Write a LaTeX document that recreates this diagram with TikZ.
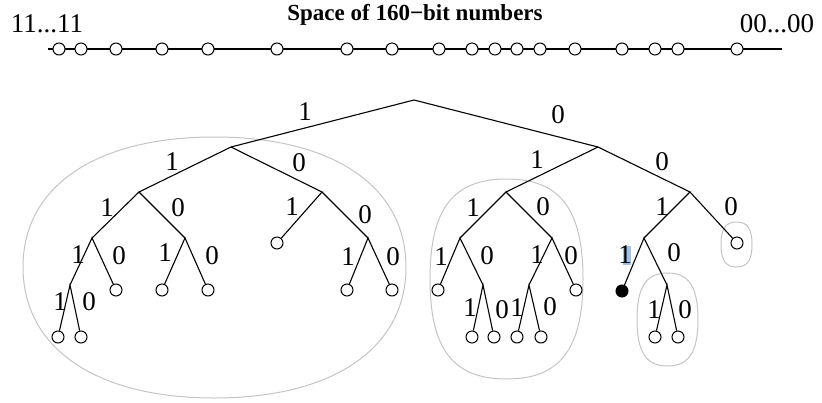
\documentclass[tikz,border=0pt]{standalone}
\usepackage{fontspec}
\setmainfont{Liberation Serif}
\definecolor{hl}{HTML}{9DC3E6}
\definecolor{blobgray}{HTML}{C4C4C4}
\newcommand{\myblob}[6]{%
 \draw[blobline] ({#1+#3},#2) .. controls ({#1+#3},{#2+#6*#5}) and ({#1+#6*#3},{#2+#5}) .. ({#1},{#2+#5})
  .. controls ({#1-#6*#3},{#2+#5}) and ({#1-#3},{#2+#6*#5}) .. ({#1-#3},#2)
  .. controls ({#1-#3},{#2-#6*#4}) and ({#1-#6*#3},{#2-#4}) .. ({#1},{#2-#4})
  .. controls ({#1+#6*#3},{#2-#4}) and ({#1+#3},{#2-#6*#4}) .. ({#1+#3},#2) -- cycle;}
\begin{document}
\begin{tikzpicture}[x=1pt,y=-1pt,
 leaf/.style={circle,draw,fill=white,minimum size=12pt,inner sep=0pt,line width=1pt},
 hit/.style={circle,draw,fill=black,minimum size=12pt,inner sep=0pt,line width=1pt},
 lab/.style={font=\fontsize{27}{31}\selectfont,inner sep=0pt},
 br/.style={line width=1.1pt},
 axis/.style={line width=2pt},
 blobline/.style={draw=blobgray,line width=1pt}]
\useasboundingbox (0,0) rectangle (822,402);

% header
\node[font=\bfseries\fontsize{23}{27}\selectfont,anchor=base,inner sep=0pt] (title) at (415,20) {Space of 160−bit numbers};
\node[font=\fontsize{27}{31}\selectfont,anchor=base,inner sep=0pt] (hi) at (47,32) {11...11};
\node[font=\fontsize{27}{31}\selectfont,anchor=base,inner sep=0pt] (lo) at (777,32) {00...00};

% number line
\coordinate (tl) at (48,49);
\coordinate (tr) at (782,49);
\draw[axis] (tl) -- (tr);
\foreach \x [count=\i] in {59,81,116,162,208,277,347,392,439,472,495,517,540,575,622,655,678,737}
  \node[leaf] (t\i) at (\x,49) {};

% grey groupings
\myblob{214.5}{267}{191.5}{130}{131}{0.62}
\myblob{506.5}{279}{76.5}{100}{100}{0.7}
\myblob{667.5}{319.5}{30.5}{46.5}{46.5}{0.7}
\myblob{736.5}{244.5}{15.5}{22.5}{22.5}{0.7}

% internal nodes
\coordinate (r) at (414,100);
\coordinate (a) at (231,147);
\coordinate (b) at (598,147);
\coordinate (aa) at (139,192);
\coordinate (ab) at (322,192);
\coordinate (ba) at (506,192);
\coordinate (bb) at (690,192);
\coordinate (aaa) at (92,238);
\coordinate (aab) at (185,238);
\coordinate (abb) at (368,238);
\coordinate (baa) at (460,238);
\coordinate (bab) at (552,238);
\coordinate (bba) at (644,238);
\coordinate (aaaa) at (70,285);
\coordinate (baab) at (483,285);
\coordinate (baba) at (529,285);
\coordinate (bbab) at (667,285);

% leaves
\node[leaf] (aba) at (277,243) {};
\node[leaf] (bbb) at (737,243) {};
\node[leaf] (aaab) at (116,290) {};
\node[leaf] (aaba) at (162,290) {};
\node[leaf] (aabb) at (208,290) {};
\node[leaf] (abba) at (347,290) {};
\node[leaf] (abbb) at (392,290) {};
\node[leaf] (baaa) at (438,290) {};
\node[leaf] (babb) at (576,290) {};
\node[hit]  (bbaa) at (622,291) {};
\node[leaf] (aaaaa) at (58,337) {};
\node[leaf] (aaaab) at (81,337) {};
\node[leaf] (baaba) at (472,337) {};
\node[leaf] (baabb) at (494,337) {};
\node[leaf] (babaa) at (517,337) {};
\node[leaf] (babab) at (541,337) {};
\node[leaf] (bbaba) at (655,337) {};
\node[leaf] (bbabb) at (678,337) {};

% edges
\draw[br] (a) -- (r) -- (b);
\draw[br] (aa) -- (a) -- (ab);
\draw[br] (ba) -- (b) -- (bb);
\draw[br] (aaa) -- (aa) -- (aab);
\draw[br] (aba) -- (ab) -- (abb);
\draw[br] (baa) -- (ba) -- (bab);
\draw[br] (bba) -- (bb) -- (bbb);
\draw[br] (aaaa) -- (aaa) -- (aaab);
\draw[br] (aaba) -- (aab) -- (aabb);
\draw[br] (abba) -- (abb) -- (abbb);
\draw[br] (baaa) -- (baa) -- (baab);
\draw[br] (baba) -- (bab) -- (babb);
\draw[br] (bbaa) -- (bba) -- (bbab);
\draw[br] (aaaaa) -- (aaaa) -- (aaaab);
\draw[br] (baaba) -- (baab) -- (baabb);
\draw[br] (babaa) -- (baba) -- (babab);
\draw[br] (bbaba) -- (bbab) -- (bbabb);

% highlight
\fill[hl] (623,246) rectangle (631,265);

% labels
\node[lab] (l1) at (305,112) {1};
\node[lab] (l2) at (558,115) {0};
\node[lab] (l3) at (172,162) {1};
\node[lab] (l4) at (299,163) {0};
\node[lab] (l5) at (537,160) {1};
\node[lab] (l6) at (662,162) {0};
\node[lab] (l7) at (107,208) {1};
\node[lab] (l8) at (178,208) {0};
\node[lab] (l9) at (292,207) {1};
\node[lab] (l10) at (365,215) {0};
\node[lab] (l11) at (473,208) {1};
\node[lab] (l12) at (543,207) {0};
\node[lab] (l13) at (662,207) {1};
\node[lab] (l14) at (731,207) {0};
\node[lab] (l15) at (78,255) {1};
\node[lab] (l16) at (119,256) {0};
\node[lab] (l17) at (165,253) {1};
\node[lab] (l18) at (212,256) {0};
\node[lab] (l19) at (348,257) {1};
\node[lab] (l20) at (393,257) {0};
\node[lab] (l21) at (441,257) {1};
\node[lab] (l22) at (487,256) {0};
\node[lab] (l23) at (537,255) {1};
\node[lab] (l24) at (571,256) {0};
\node[lab] (l25) at (625,255) {1};
\node[lab] (l26) at (674,253) {0};
\node[lab] (l27) at (60,302) {1};
\node[lab] (l28) at (89,302) {0};
\node[lab] (l29) at (470,308) {1};
\node[lab] (l30) at (502,310) {0};
\node[lab] (l31) at (517,308) {1};
\node[lab] (l32) at (550,307) {0};
\node[lab] (l33) at (654,310) {1};
\node[lab] (l34) at (685,310) {0};
\end{tikzpicture}
\end{document}
